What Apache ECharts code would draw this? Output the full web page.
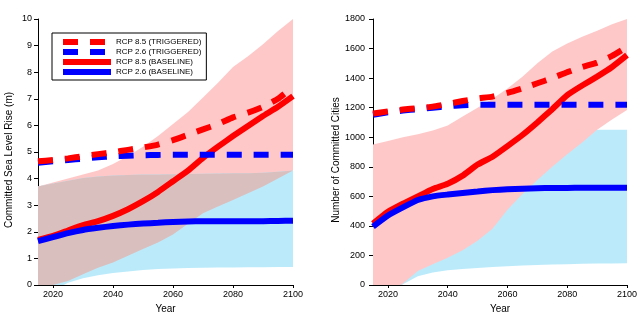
<!DOCTYPE html>
<html>
<head>
<meta charset="utf-8">
<script src="https://cdn.jsdelivr.net/npm/echarts@6/dist/echarts.min.js"></script>
<style>
html,body{margin:0;padding:0;background:#fff;}
#chart{width:640px;height:321px;}
</style>
</head>
<body>
<div id="chart"></div>
<script>
// ---------- data ----------
const years = [2015, 2020, 2025, 2030, 2035, 2040, 2045, 2050, 2055, 2060, 2065, 2070, 2075, 2080, 2085, 2090, 2095, 2100];
const legendNames = ['RCP 8.5 (TRIGGERED)', 'RCP 2.6 (TRIGGERED)', 'RCP 8.5 (BASELINE)', 'RCP 2.6 (BASELINE)'];

// Left panel: committed sea level rise (m)
const slr85Trig = [4.65, 4.70, 4.76, 4.84, 4.92, 4.99, 5.08, 5.17, 5.28, 5.45, 5.65, 5.85, 6.05, 6.30, 6.48, 6.70, 7.00, 7.45];
const slr26Trig = [4.60, 4.65, 4.70, 4.75, 4.80, 4.84, 4.86, 4.88, 4.89, 4.90, 4.90, 4.90, 4.90, 4.90, 4.90, 4.90, 4.90, 4.90];
const slr85Base = [1.70, 1.85, 2.05, 2.25, 2.40, 2.60, 2.85, 3.15, 3.50, 3.90, 4.30, 4.78, 5.20, 5.60, 5.98, 6.35, 6.70, 7.10];
const slr26Base = [1.65, 1.80, 1.95, 2.07, 2.15, 2.22, 2.27, 2.31, 2.34, 2.37, 2.39, 2.40, 2.40, 2.40, 2.40, 2.40, 2.41, 2.42];
const slr85Upper = [3.70, 3.85, 4.00, 4.15, 4.30, 4.55, 4.85, 5.20, 5.60, 6.05, 6.50, 7.05, 7.60, 8.20, 8.60, 9.05, 9.55, 10.0];
const slr85Lower = [-0.30, 0.00, 0.15, 0.40, 0.65, 0.85, 1.10, 1.35, 1.60, 1.90, 2.30, 2.70, 2.95, 3.20, 3.45, 3.70, 4.00, 4.30];
const slr26Upper = [3.70, 3.82, 3.92, 4.02, 4.08, 4.12, 4.14, 4.15, 4.15, 4.16, 4.17, 4.18, 4.19, 4.20, 4.20, 4.22, 4.26, 4.30];
const slr26Lower = [-0.60, -0.20, 0.08, 0.25, 0.37, 0.45, 0.51, 0.56, 0.60, 0.62, 0.64, 0.65, 0.66, 0.66, 0.67, 0.67, 0.68, 0.68];

// Right panel: number of committed cities
const city85Trig = [1160, 1175, 1187, 1197, 1207, 1225, 1245, 1262, 1275, 1300, 1330, 1365, 1400, 1440, 1475, 1505, 1550, 1610];
const city26Trig = [1152, 1168, 1180, 1190, 1200, 1210, 1217, 1220, 1220, 1220, 1220, 1220, 1220, 1220, 1220, 1220, 1220, 1220];
const city85Base = [415, 495, 550, 600, 650, 685, 740, 815, 868, 940, 1015, 1100, 1190, 1285, 1350, 1410, 1475, 1555];
const city26Base = [395, 470, 525, 575, 600, 612, 622, 632, 642, 648, 652, 655, 656, 657, 658, 658, 658, 658];
const city85Upper = [950, 975, 1000, 1020, 1045, 1080, 1140, 1200, 1260, 1330, 1410, 1500, 1580, 1635, 1680, 1720, 1765, 1800];
const city85Lower = [-100, -50, 10, 95, 140, 185, 235, 300, 380, 510, 615, 710, 800, 885, 965, 1050, 1120, 1185];
const city26Upper = [200, 250, 300, 350, 400, 450, 500, 560, 620, 690, 760, 830, 900, 970, 1030, 1050, 1050, 1050];
const city26Lower = [-200, -100, 5, 60, 85, 100, 108, 115, 122, 127, 132, 136, 139, 141, 143, 145, 146, 147];

const xTicks = [2020, 2040, 2060, 2080, 2100];

// ---------- styles ----------
const RED = '#ff0000', BLUE = '#0000ff';
const PINK = '#ffc8c8', CYAN = '#bbebfb', BROWN = '#dabfbf';
const FONT = 'Liberation Sans';

function pairs(arr) { return years.map((y, i) => [y, arr[i]]); }

// Shaded band between lower and upper, drawn as one polygon through the axis scales
function band(gi, lower, upper, color, z) {
  return {
    type: 'custom', xAxisIndex: gi, yAxisIndex: gi, silent: true, z: z, animation: false,
    data: years.map((y, i) => [y, lower[i], upper[i]]),
    encode: { x: 0, y: [1, 2] },
    renderItem: function (params, api) {
      if (params.dataIndex !== 0) return null;
      const pts = [];
      for (let i = 0; i < years.length; i++) pts.push(api.coord([years[i], upper[i]]));
      for (let i = years.length - 1; i >= 0; i--) pts.push(api.coord([years[i], lower[i]]));
      const cs = params.coordSys;
      return {
        type: 'polygon',
        shape: { points: pts },
        style: { fill: color, stroke: null },
        clipPath: { type: 'rect', shape: { x: cs.x, y: cs.y, width: cs.width, height: cs.height } }
      };
    }
  };
}

function line(name, gi, arr, color, dashed, z) {
  return { type: 'line', name: name, xAxisIndex: gi, yAxisIndex: gi, data: pairs(arr),
    symbol: 'none', smooth: 0.15, animation: false, z: z,
    lineStyle: { color: color, width: 6, type: dashed ? [15, 12] : 'solid', cap: 'butt' },
    itemStyle: { color: color } };
}

const ovLower = slr85Lower.map((v, i) => Math.max(v, slr26Lower[i]));
const ovUpper = slr85Upper.map((v, i) => Math.max(ovLower[i], Math.min(v, slr26Upper[i])));

function xAxis(gi) {
  return { gridIndex: gi, type: 'value', min: 2015, max: 2100, splitNumber: 4,
    name: 'Year', nameLocation: 'middle', nameGap: 19,
    nameTextStyle: { fontFamily: FONT, fontSize: 10, color: '#000' },
    axisLine: { show: true, onZero: false, lineStyle: { color: '#000', width: 1 } },
    axisTick: { show: true, inside: false, length: 3, lineStyle: { color: '#000' },
      customValues: xTicks },
    axisLabel: { fontFamily: FONT, fontSize: 9, color: '#000', margin: 5,
      customValues: xTicks, formatter: v => String(v) },
    splitLine: { show: false } };
}
function yAxis(gi, max, interval, name, margin) {
  return { gridIndex: gi, type: 'value', min: 0, max: max, interval: interval,
    name: name, nameLocation: 'middle', nameGap: gi === 0 ? 24 : 30,
    nameTextStyle: { fontFamily: FONT, fontSize: 10, color: '#000', padding: [0, 16, 0, 0] },
    axisLine: { show: true, onZero: false, lineStyle: { color: '#000', width: 1 } },
    axisTick: { show: true, inside: false, length: 4, lineStyle: { color: '#000' } },
    axisLabel: { fontFamily: FONT, fontSize: 9, color: '#000', margin: margin, formatter: v => String(v) },
    splitLine: { show: false } };
}

const series = [
  // left panel bands
  band(0, slr85Lower, slr85Upper, PINK, 1),
  band(0, slr26Lower, slr26Upper, CYAN, 2),
  band(0, ovLower, ovUpper, BROWN, 3),
  // right panel bands
  band(1, city26Lower, city26Upper, CYAN, 1),
  band(1, city85Lower, city85Upper, PINK, 2),
  line(legendNames[2], 0, slr85Base, RED, false, 10),
  line(legendNames[3], 0, slr26Base, BLUE, false, 11),
  line(legendNames[1], 0, slr26Trig, BLUE, true, 12),
  line(legendNames[0], 0, slr85Trig, RED, true, 13),
  line(legendNames[2], 1, city85Base, RED, false, 10),
  line(legendNames[3], 1, city26Base, BLUE, false, 11),
  line(legendNames[1], 1, city26Trig, BLUE, true, 12),
  line(legendNames[0], 1, city85Trig, RED, true, 13)
];

const chart = echarts.init(document.getElementById('chart'), null, { renderer: 'canvas' });
chart.setOption({
  animation: false,
  backgroundColor: '#fff',
  textStyle: { fontFamily: FONT },
  grid: [
    { left: 38, top: 19, width: 255, height: 266, containLabel: false },
    { left: 373, top: 19, width: 254, height: 266, containLabel: false }
  ],
  xAxis: [xAxis(0), xAxis(1)],
  yAxis: [
    yAxis(0, 10, 1, 'Committed Sea Level Rise (m)', 6),
    yAxis(1, 1800, 200, 'Number of Committed Cities', 8)
  ],
  legend: {
    data: legendNames, orient: 'vertical', left: 52, top: 33,
    padding: [5, 5, 4, 8], itemGap: 2, itemWidth: 48, itemHeight: 8,
    borderColor: '#000', borderWidth: 1, backgroundColor: '#fff', borderRadius: 0,
    textStyle: { fontFamily: FONT, fontSize: 8, color: '#000' },
    lineStyle: { width: 6 }, itemStyle: { opacity: 0 }, selectedMode: false
  },
  series: series
});
</script>
</body>
</html>
